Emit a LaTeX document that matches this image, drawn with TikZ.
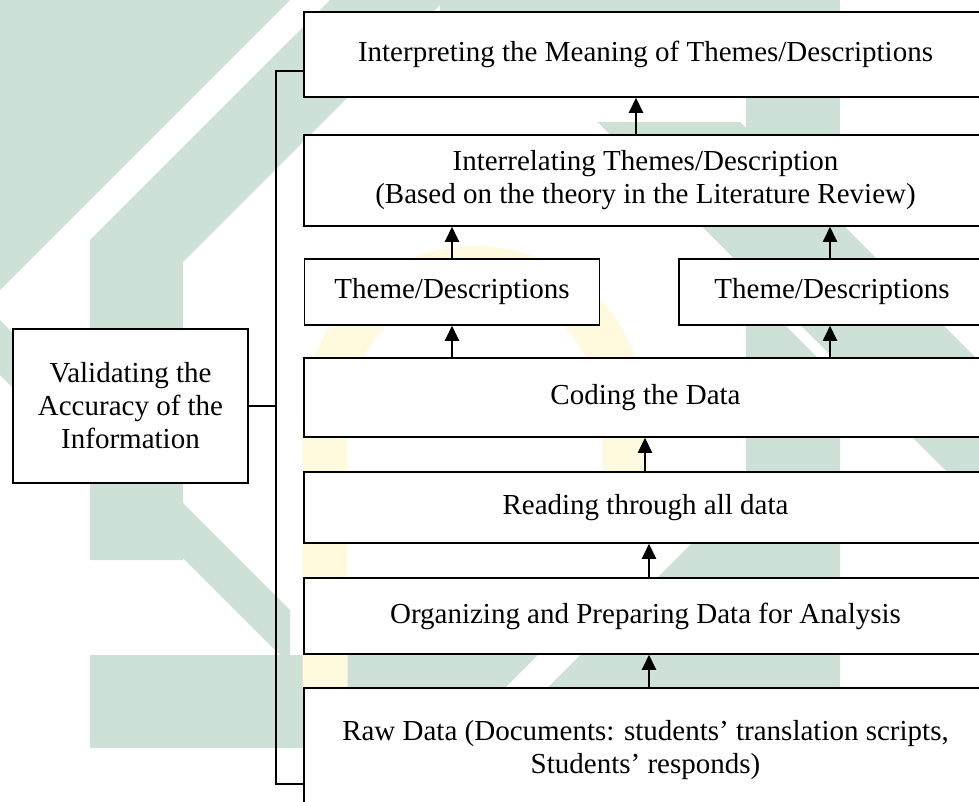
\documentclass[tikz,border=0pt]{standalone}
\usepackage{fontspec}
\setmainfont{Liberation Serif}
\usetikzlibrary{arrows.meta}
\definecolor{wmgreen}{RGB}{206,225,215}
\definecolor{wmyellow}{RGB}{255,249,222}
\tikzset{
  box/.style={draw, line width=1.5pt, fill=white, align=center, inner sep=0pt,
              font=\fontsize{29}{33}\selectfont},
  arr/.style={line width=2pt, -{Triangle[length=15pt,width=14pt]}},
  brk/.style={line width=1.5pt},
  wm/.style={fill=wmgreen, draw=none},
  wmw/.style={fill=white, draw=none}
}
\begin{document}
\begin{tikzpicture}[x=1pt,y=-1pt]
\useasboundingbox (0,0) rectangle (979,801);
\clip (0,0) rectangle (979,801);
% watermark (faint background logo)
\fill[wm] (0,0) -- (290,0) -- (0,290) -- cycle;
\fill[wm] (330,0) -- (445,0) -- (183,262) -- (183,560) -- (90,560) -- (90,240) -- cycle;
\fill[wm] (440,0) -- (840,0) -- (840,40) -- (440,40) -- cycle;
\fill[wm] (0,320) -- (290,610) -- (290,665) -- (0,375) -- cycle;
\fill[wm] (90,655) -- (840,655) -- (840,748) -- (90,748) -- cycle;
\fill[wm] (746,0) -- (840,0) -- (840,748) -- (746,748) -- cycle;
\fill[wm] (840,395) -- (840,748) -- (487,748) -- cycle;
\fill[wm] (597,122) -- (740,122) -- (979,361) -- (979,504) -- cycle;
\fill[wmw] (582,122) -- (597,122) -- (875,400) -- (860,400) -- cycle;
\fill[wmw] (538,655) -- (580,655) -- (487,748) -- (445,748) -- cycle;
\draw[wmyellow, line width=45pt, line cap=round] (325,690) -- (325,430) .. controls (325,215) and (625,215) .. (625,430) -- (625,480);
% boxes
\node[box, minimum width=683pt, minimum height=85pt]  (top)    at (645.5,54.5)  {Interpreting the Meaning of Themes/Descriptions};
\node[box, minimum width=683pt, minimum height=91pt]  (interrel) at (645.5,180.5) {Interrelating Themes/Description\\(Based on the theory in the Literature Review)};
\node[box, minimum width=295pt, minimum height=66pt]  (themeL) at (452,292)     {Theme/Descriptions};
\node[box, minimum width=306pt, minimum height=66pt]  (themeR) at (832,292)     {Theme/Descriptions};
\node[box, minimum width=683pt, minimum height=79pt]  (coding) at (645.5,397.5) {Coding the Data};
\node[box, minimum width=683pt, minimum height=71pt]  (reading) at (645.5,507.5) {Reading through all data};
\node[box, minimum width=683pt, minimum height=76pt]  (organ)  at (645.5,616)   {Organizing and Preparing Data for Analysis};
\node[box, minimum width=683pt, minimum height=124pt] (raw)    at (645.5,750)   {Raw Data (Documents: students’ translation scripts,\\Students’ responds)};
\node[box, minimum width=235pt, minimum height=154pt] (valid)  at (130.5,406)   {Validating the\\Accuracy of the\\Information};
% arrows
\draw[arr] ([xshift=-9.5pt]interrel.north) -- ([xshift=-9.5pt]top.south);
\draw[arr] (themeL.north) -- (themeL.north |- interrel.south);
\draw[arr] ([xshift=-2pt]themeR.north) -- ([xshift=-2pt]themeR.north |- interrel.south);
\draw[arr] (coding.north -| themeL.south) -- (themeL.south);
\draw[arr] ([xshift=-2pt]coding.north -| themeR.south) -- ([xshift=-2pt]themeR.south);
\draw[arr] ([xshift=-0.5pt]reading.north) -- ([xshift=-0.5pt]coding.south);
\draw[arr] ([xshift=3.5pt]organ.north) -- ([xshift=3.5pt]reading.south);
\draw[arr] ([xshift=3.5pt]raw.north) -- ([xshift=3.5pt]organ.south);
% validation bracket
\coordinate (b1) at (276,71);
\coordinate (b2) at (276,784);
\draw[brk] (top.west |- b1) -- (b1) -- (b2) -- (raw.west |- b2);
\draw[brk] (valid.east) -- (valid.east -| b1);
\end{tikzpicture}
\end{document}
